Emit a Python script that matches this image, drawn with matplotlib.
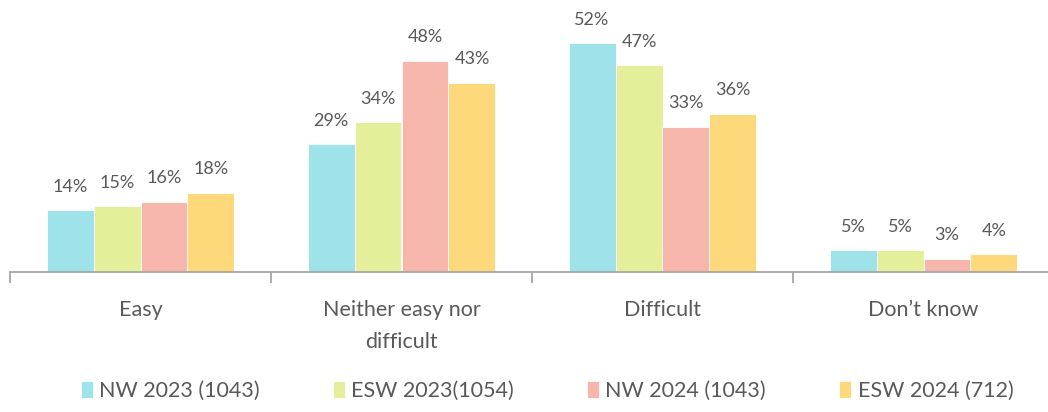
import numpy as np
import matplotlib
matplotlib.use("Agg")
import matplotlib.pyplot as plt

plt.rcParams['font.family'] = ['Lato', 'DejaVu Sans']

categories = ["Easy", "Neither easy nor\ndifficult", "Difficult", "Don\u2019t know"]
series = ["NW 2023 (1043)", "ESW 2023(1054)", "NW 2024 (1043)", "ESW 2024 (712)"]
nw_2023 = [14, 29, 52, 5]
esw_2023 = [15, 34, 47, 5]
nw_2024 = [16, 48, 33, 3]
esw_2024 = [18, 43, 36, 4]
colors = ["#9EE3EA", "#E5EF99", "#F7B6AB", "#FDD97B"]

text_col = "#595959"
axis_col = "#A6A6A6"

fig = plt.figure(figsize=(10.48, 4.12), dpi=100)
ax = fig.add_axes([10 / 1048, 140 / 412, 1044 / 1048, 264 / 412])

x = np.arange(len(categories))
w = 0.18
data = [nw_2023, esw_2023, nw_2024, esw_2024]
for i, (vals, name, c) in enumerate(zip(data, series, colors)):
    pos = x + (i - 1.5) * w
    bars = ax.bar(pos, vals, width=w, color=c, label=name, edgecolor="white", linewidth=0.6)
    for b, v in zip(bars, vals):
        ax.text(b.get_x() + b.get_width() / 2, v + 5.3, f"{v}%", ha="center", va="center",
                fontsize=13, color=text_col)

ax.set_xlim(-0.5, 3.5)
ax.set_ylim(0, 60)
ax.set_yticks([])
for s in ["top", "right", "left"]:
    ax.spines[s].set_visible(False)
ax.spines["bottom"].set_color(axis_col)
ax.spines["bottom"].set_linewidth(1.3)

ax.set_xticks([-0.5, 0.5, 1.5, 2.5, 3.5])
ax.set_xticklabels([])
ax.tick_params(axis="x", length=8, width=1.3, color=axis_col, direction="out")
for xi, cat in zip(x, categories):
    ax.text(xi, -6.3, cat, ha="center", va="top", fontsize=15.5, color=text_col,
            linespacing=1.75)

leg = fig.legend(loc="center", bbox_to_anchor=(0.522, 21 / 412), ncol=4, frameon=False,
                 fontsize=15.5, handlelength=0.55, handleheight=0.8, handletextpad=0.3,
                 columnspacing=3.4)
for t in leg.get_texts():
    t.set_color(text_col)

fig.savefig("out.png", dpi=100)
